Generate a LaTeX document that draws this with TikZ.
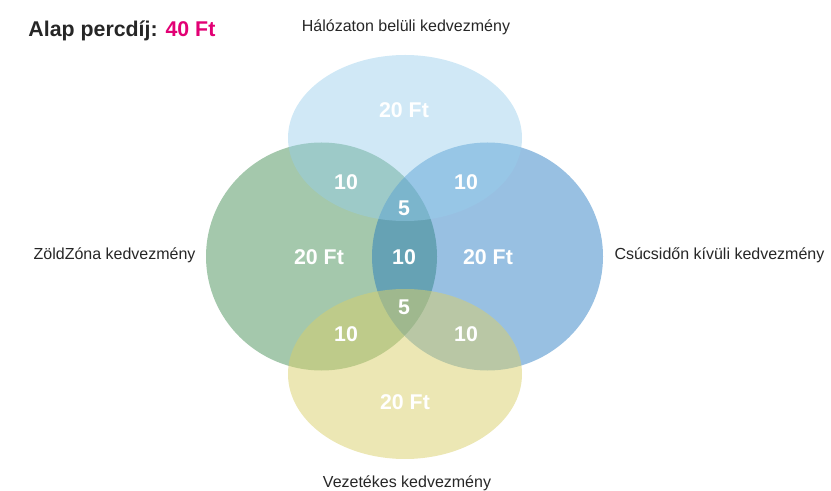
\documentclass[tikz,border=0pt]{standalone}
\usepackage{fontspec}
\setmainfont{Liberation Sans}

\definecolor{zoldkor}{RGB}{164,200,172}
\definecolor{kekkor}{RGB}{27,116,191}
\definecolor{egkor}{RGB}{150,205,235}
\definecolor{sargakor}{RGB}{217,207,105}
\definecolor{tmagenta}{RGB}{226,0,116}

\tikzset{every picture/.style={line width=0.75pt}}
\tikzset{
  kor/.style={draw=none},
  felirat/.style={inner sep=0.75pt, font=\fontsize{12}{14}\selectfont, text=black!85},
  ertek/.style={inner sep=0.75pt, font=\fontsize{16}{19}\selectfont\bfseries, text=white},
}

\begin{document}
\begin{tikzpicture}[x=0.75pt,y=0.75pt,yscale=-1,xscale=1]
\useasboundingbox (0,0) rectangle (831,491);

%Shape: Ellipse [id:zoldzona] 
\fill [kor, fill=zoldkor] (321.5,256.5) ellipse (115.5 and 114);
%Shape: Ellipse [id:csucsido] 
\fill [kor, fill=kekkor, fill opacity=0.45] (487.5,256.5) ellipse (115.5 and 114);
%Shape: Ellipse [id:halozat] 
\fill [kor, fill=egkor, fill opacity=0.45] (405,138) ellipse (117 and 83);
%Shape: Ellipse [id:vezetekes] 
\fill [kor, fill=sargakor, fill opacity=0.5] (405,374) ellipse (117 and 85);

% Text Node
\draw (28,37) node [anchor=base west][inner sep=0pt, font=\fontsize{16}{19}\selectfont\bfseries, text=black!85] (cim) {Alap percdíj: {\color{tmagenta}40 Ft}};
% Text Node
\draw (406,27) node [felirat] (halo) {Hálózaton belüli kedvezmény};
% Text Node
\draw (197,255) node [anchor=east][felirat] (zold) {ZöldZóna kedvezmény};
% Text Node
\draw (613,255) node [anchor=west][felirat] (csucs) {Csúcsidőn kívüli kedvezmény};
% Text Node
\draw (407,483) node [felirat] (vezet) {Vezetékes kedvezmény};

% Text Node
\draw (404,110) node [ertek] (halo20) {20 Ft};
% Text Node
\draw (319,257) node [ertek] (zold20) {20 Ft};
% Text Node
\draw (488,257) node [ertek] (csucs20) {20 Ft};
% Text Node
\draw (405,402) node [ertek] (vezet20) {20 Ft};
% Text Node
\draw (404,257) node [ertek] (kozep10) {10};
% Text Node
\draw (404,208) node [ertek] (fent5) {5};
% Text Node
\draw (404,307) node [ertek] (lent5) {5};
% Text Node
\draw (346,182) node [ertek] (balfent10) {10};
% Text Node
\draw (466,182) node [ertek] (jobbfent10) {10};
% Text Node
\draw (346,334) node [ertek] (ballent10) {10};
% Text Node
\draw (466,334) node [ertek] (jobblent10) {10};
\end{tikzpicture}
\end{document}
